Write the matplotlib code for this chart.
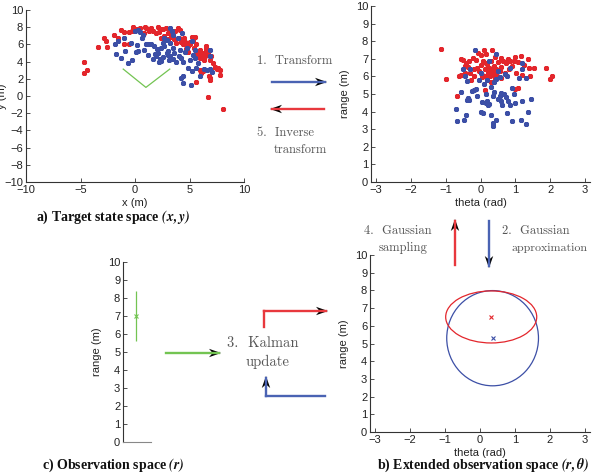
import matplotlib
matplotlib.use("Agg")
import matplotlib.pyplot as plt
import numpy as np
from matplotlib.patches import Ellipse, Polygon
from matplotlib.lines import Line2D

plt.rcParams['font.family'] = ['Liberation Sans', 'DejaVu Sans']
plt.rcParams['mathtext.fontset'] = 'stix'

# ---------------- data ----------------
# a) target state space (x, y)
tgt_red_x = [-4.69, -4.72, -4.44, -3.37, -2.8, -2.67, -2.55, -1.9, -1.6, -1.27, -1.05, -1.0, -0.56, -0.56, -0.14,
             0.17, 0.44, 0.78, 1.05, 1.3, 1.66, 1.9, 2.1, 2.3, 2.6, 2.8, 2.4, 2.7, 3.0, 3.25, 3.4, 3.56, 3.7, 3.9,
             4.1, 4.0, 4.2, 4.35, 4.5, 4.6, 4.7, 4.9, 5.05, 5.2, 5.3, 5.5, 5.6, 5.6, 5.9, 6.0, 6.2, 6.4, 6.55, 6.7,
             6.85, 7.0, 7.15, 7.3, 7.5, 7.6, 7.8, 7.8, 6.8, 6.85, 6.9, 6.2, 6.1, 5.6, 6.7, 8.1, 4.7, 4.9, 5.95,
             6.3, 3.0, 3.3, 3.8, 4.4, 5.0, 5.4, 5.8, 6.1, 6.5, 3.5, 2.2, 1.5, 0.9, -0.3, 6.0, 7.0, 6.5, 5.7]
tgt_red_y = [4.0, 2.7, 3.0, 5.7, 6.8, 6.4, 5.7, 7.1, 6.7, 7.7, 7.4, 6.0, 7.4, 6.0, 8.0,
             7.8, 7.9, 7.3, 7.9, 7.6, 7.6, 7.3, 8.0, 7.8, 7.8, 7.9, 6.8, 7.0, 7.3, 7.6, 7.0, 6.6, 7.6, 7.9,
             7.7, 6.7, 6.3, 6.5, 6.8, 6.3, 5.9, 5.8, 6.3, 6.9, 6.5, 6.9, 6.1, 5.2, 4.8, 5.4, 5.0, 4.6, 5.5, 5.0,
             4.2, 4.6, 3.8, 3.4, 3.1, 3.3, 3.0, 2.5, 2.3, 1.9, 2.1, 2.9, 2.7, 1.6, -0.1, -1.5, 5.5, 5.1, 4.4,
             4.2, 6.6, 6.9, 6.2, 6.1, 6.0, 5.6, 5.0, 4.9, 4.8, 7.3, 7.4, 7.9, 8.0, 7.6, 3.0, 3.0, 5.8, 4.6]
tgt_blue_x = [-1.75, -1.85, -1.6, -1.25, -0.9, -0.63, -0.3, 0.14, 0.3, 0.44, 0.7, 0.8, 1.3, 1.5, 1.7, 2.0, 2.1,
              2.3, 2.4, 2.6, 2.7, 2.9, 3.0, 3.2, 3.35, 3.5, 3.25, 3.45, 3.5, 3.8, 4.1, 4.25, 4.4, 4.25, 4.4, 4.4,
              5.1, 4.9, 5.2, 5.5, 5.8, 5.95, 6.3, 6.85, 6.9, 6.9, 7.1, 5.3, 5.5, 1.65, 1.8, 1.05, 2.7, 2.9, 2.6,
              0.08, -1.0, 0.0, 0.3, 3.0, 3.2, 2.2, 1.9, 4.6, 4.0, 3.6, 5.0, 5.6, 6.6, 4.8, 5.2, 2.4, 0.6, -0.4,
              1.2, 3.9, 4.3, 3.1]
tgt_blue_y = [4.85, 6.0, 6.4, 4.4, 5.2, 3.8, 4.2, 5.95, 5.2, 7.4, 7.1, 5.4, 6.0, 6.1, 5.8, 5.5, 5.0,
              4.3, 4.1, 4.5, 5.8, 5.0, 4.8, 7.9, 7.5, 7.1, 6.2, 5.6, 4.3, 3.9, 5.4, 4.4, 4.0, 2.1, 2.3, 1.5,
              1.3, 3.2, 2.9, 4.4, 3.8, 2.3, 3.1, 5.4, 4.7, 3.1, 2.8, 4.8, 5.4, 4.3, 4.9, 6.1, 6.7, 6.5, 6.2,
              5.1, 6.8, 7.6, 7.7, 5.2, 4.6, 4.0, 4.6, 5.1, 4.7, 5.0, 4.2, 3.2, 3.0, 5.6, 6.4, 5.6, 6.8, 6.2,
              4.8, 6.8, 7.3, 4.2]
fov_x = [-1.08, 1.0, 3.19]
fov_y = [3.13, 1.0, 3.13]

# extended observation space (theta, range) samples
ext_red_t = [-1.13, -0.99, -0.67, -0.62, -0.57, -0.55, -0.5, -0.45, -0.41, -0.37, -0.33, -0.3, -0.27, -0.22,
             -0.18, -0.13, -0.11, -0.08, -0.04, 0.0, 0.01, 0.05, 0.08, 0.1, 0.12, 0.12, 0.15, 0.17, 0.2, 0.22,
             0.25, 0.27, 0.3, 0.32, 0.34, 0.35, 0.38, 0.4, 0.42, 0.45, 0.48, 0.5, 0.55, 0.58, 0.6, 0.65, 0.7,
             0.72, 0.78, 0.82, 0.85, 0.9, 0.95, 1.0, 1.02, 1.08, 1.15, 1.2, 1.25, 1.35, 1.38, 1.42, 1.53, 0.99,
             1.08, 1.88, 1.98, 2.04, -0.2, 0.05, 0.3, 0.6, -0.45, 0.15, 0.36, 0.28, 0.43]
ext_red_r = [7.54, 5.84, 4.86, 6.03, 6.08, 7.0, 6.94, 6.6, 6.75, 6.56, 6.9, 6.18, 5.8, 7.03,
             6.4, 6.94, 6.46, 7.35, 6.28, 6.65, 7.22, 6.1, 6.85, 7.5, 6.4, 5.24, 6.0, 7.3, 6.7, 6.25,
             6.5, 6.05, 6.9, 6.3, 7.5, 6.1, 6.6, 6.2, 7.1, 6.4, 6.0, 6.8, 6.3, 7.05, 6.55, 6.9, 6.2,
             6.75, 7.0, 6.4, 6.85, 6.6, 6.9, 7.1, 6.2, 6.8, 7.15, 6.1, 6.65, 7.0, 6.5, 6.0, 6.45, 5.3,
             5.36, 6.46, 5.84, 6.0, 6.0, 5.95, 5.7, 5.9, 6.2, 6.75, 6.45, 6.2, 5.85]
ext_blue_t = [-0.16, -0.5, -0.45, -0.4, -0.55, -0.69, -0.67, -0.46, -0.43, -0.37, -0.32, -0.25, -0.2, -0.12,
              -0.1, 0.01, 0.08, 0.05, 0.15, 0.2, 0.22, 0.25, 0.3, 0.35, 0.36, 0.45, 0.5, 0.55, 0.6, 0.62, 0.68,
              0.72, 0.75, 0.8, 0.85, 0.9, 0.95, 0.9, 1.0, 1.1, 1.15, 1.2, 1.3, 1.35, 1.44, 1.3, 1.2, 1.18, 0.4,
              0.45, 0.5, 0.55, 0.2, 0.1, 0.0, -0.05, 0.3, 0.4, -0.3, 0.75, 0.85, 0.7, 0.35, 0.15, 0.6, -0.4,
              0.25, 0.45]
ext_blue_r = [7.5, 6.4, 6.0, 5.75, 5.1, 4.14, 3.44, 3.5, 3.78, 4.76, 4.67, 5.15, 5.2, 5.3,
              4.9, 4.0, 3.9, 4.55, 4.5, 4.6, 4.4, 4.45, 3.8, 3.2, 3.35, 3.55, 4.7, 4.9, 5.05, 4.4, 5.0,
              4.85, 3.9, 4.6, 4.35, 5.35, 5.0, 3.45, 4.5, 5.9, 3.5, 4.6, 3.3, 4.0, 4.7, 5.9, 6.4, 6.75, 5.7,
              5.85, 6.3, 5.95, 5.8, 5.55, 6.2, 5.8, 5.4, 5.1, 6.4, 6.0, 6.5, 6.15, 4.9, 5.0, 4.6, 4.65,
              6.85, 7.3]

# b) Gaussian approximations: [theta, range] means and semi-axes
gauss_red_mean = [0.32, 6.5]
gauss_red_semi = [1.30, 1.47]
gauss_blue_mean = [0.36, 5.3]
gauss_blue_semi = [1.31, 2.69]

# c) observation
obs_x = [0.47]
obs_r = [7.0]
obs_err = [1.4]

# ---------------- styles ----------------
RED = '#e3262c'
BLUE = '#3c4fa6'
ARED = '#e8383d'
ABLUE = '#4a63b3'
GREEN = '#73c452'
AX = '#333333'
GREY_TXT = '#555555'
W, H = 593, 473
FS = 8

fig = plt.figure(figsize=(W / 100, H / 100), dpi=100)


def fr(l, t, r, b):
    return [l / W, 1 - b / H, (r - l) / W, (b - t) / H]


def style(ax):
    for s in ['top', 'right']:
        ax.spines[s].set_visible(False)
    for s in ['left', 'bottom']:
        ax.spines[s].set_color(AX)
        ax.spines[s].set_linewidth(0.8)
    ax.tick_params(direction='in', length=3, width=0.6, color=AX, labelsize=FS,
                   labelcolor='#222222', pad=2)


def arrow(x0, y0, x1, y1, color):
    fig.add_artist(Line2D([x0 / W, x1 / W], [1 - y0 / H, 1 - y1 / H], color=color, lw=1.7,
                          transform=fig.transFigure))
    d = np.array([x1 - x0, y1 - y0], float)
    d /= np.hypot(*d)
    n = np.array([-d[1], d[0]])
    tip = np.array([x1, y1], float) + d * 2
    L, Wd = 12, 4.2
    back = tip - d * L
    pts = [tip, back + n * Wd, tip - d * L * 0.7, back - n * Wd]
    pts = [(p[0] / W, 1 - p[1] / H) for p in pts]
    fig.add_artist(Polygon(pts, closed=True, color='black', transform=fig.transFigure, lw=0))


def serif_text(x, y, s, size=9, ha='left'):
    fig.text(x / W, 1 - y / H, s, fontfamily='cmr10', fontsize=size, color=GREY_TXT,
             ha=ha, va='center')


mk = dict(marker=(6, 2, 0), linestyle='none', markersize=3.6, markeredgewidth=1.3)

# ---- a) target state space ----
ax1 = fig.add_axes(fr(26, 10, 244, 182))
style(ax1)
ax1.plot(tgt_red_x, tgt_red_y, color=RED, **mk)
ax1.plot(tgt_blue_x, tgt_blue_y, color=BLUE, **mk)
ax1.plot(fov_x, fov_y, color=GREEN, lw=0.9)
ax1.set_xlim(-10, 10)
ax1.set_ylim(-10, 10)
ax1.set_xticks([-10, -5, 0, 5, 10])
ax1.set_yticks(range(-10, 11, 2))
ax1.set_xlabel('x (m)', fontsize=FS, labelpad=2, color='#222222')
fig.text(0.003, 1 - 96 / H, 'y (m)', rotation=90, fontsize=FS, va='center', ha='center', color='#222222')

# ---- extended space samples ----
ax2 = fig.add_axes(fr(371, 6, 590, 182))
style(ax2)
ax2.plot(ext_red_t, ext_red_r, color=RED, **mk)
ax2.plot(ext_blue_t, ext_blue_r, color=BLUE, **mk)
ax2.set_xlim(-np.pi, np.pi)
ax2.set_ylim(0, 10)
ax2.set_xticks(range(-3, 4))
ax2.set_yticks(range(0, 11))
ax2.set_xlabel('theta (rad)', fontsize=FS, labelpad=2, color='#222222')
ax2.set_ylabel('range (m)', fontsize=FS, labelpad=4, color='#222222')

# ---- b) Gaussian approximation ----
ax3 = fig.add_axes(fr(370, 255, 590, 432))
style(ax3)
ax3.add_patch(Ellipse(gauss_blue_mean, 2 * gauss_blue_semi[0], 2 * gauss_blue_semi[1],
                      fill=False, ec=BLUE, lw=0.9))
ax3.add_patch(Ellipse(gauss_red_mean, 2 * gauss_red_semi[0], 2 * gauss_red_semi[1],
                      fill=False, ec=RED, lw=0.9))
ax3.plot([gauss_red_mean[0]], [gauss_red_mean[1]], marker='x', color=RED, markersize=2.5, mew=0.8)
ax3.plot([gauss_blue_mean[0]], [gauss_blue_mean[1]], marker='x', color=BLUE, markersize=2.5, mew=0.8)
ax3.set_xlim(-np.pi, np.pi)
ax3.set_ylim(0, 10)
ax3.set_xticks(range(-3, 4))
ax3.set_yticks(range(0, 11))
ax3.set_xlabel('theta (rad)', fontsize=FS, labelpad=2, color='#222222')
ax3.set_ylabel('range (m)', fontsize=FS, labelpad=4, color='#222222')

# ---- c) observation space ----
ax4 = fig.add_axes(fr(123, 262, 151, 442))
style(ax4)
ax4.spines['bottom'].set_color('#888888')
ax4.errorbar(obs_x, obs_r, yerr=obs_err, color=GREEN, lw=0.9, capsize=0,
             marker='x', markersize=2.5, mew=0.8)
ax4.set_xlim(0, 1)
ax4.set_ylim(0, 10)
ax4.set_xticks([])
ax4.set_yticks(range(0, 11))
ax4.set_ylabel('range (m)', fontsize=FS, labelpad=4, color='#222222')

# ---- arrows ----
arrow(272, 82, 325, 82, ABLUE)
arrow(324, 109, 272, 109, ARED)
arrow(455, 265, 455, 221, ARED)
arrow(489, 221, 489, 266, ABLUE)
arrow(166, 353, 219, 353, GREEN)
# Kalman update L-shaped arrows
fig.add_artist(Line2D([264 / W, 264 / W], [1 - 327 / H, 1 - 311 / H], color=ARED, lw=1.7,
                      transform=fig.transFigure))
arrow(264, 311, 326, 311, ARED)
fig.add_artist(Line2D([325 / W, 266 / W], [1 - 396 / H, 1 - 396 / H], color=ABLUE, lw=1.7,
                      transform=fig.transFigure))
arrow(266, 396, 266, 378, ABLUE)

# ---- annotations ----
serif_text(257, 61, '1.  Transform')
serif_text(257, 133, '5.  Inverse')
serif_text(274, 150, 'transform')
serif_text(364, 231, '4.  Gaussian')
serif_text(379, 248, 'sampling')
serif_text(502, 231, '2.  Gaussian')
serif_text(512, 248, 'approximation', size=8.6)
serif_text(227, 343, '3.  Kalman', size=10.5)
serif_text(246, 362, 'update', size=10.5)

cap = dict(fontfamily='Liberation Serif', fontweight='bold', fontsize=10, color='#111111',
           ha='center', va='center')
fig.text(113 / W, 1 - 217 / H, r'a) Target state space $\mathbfit{(x, y)}$', **cap)
fig.text(113 / W, 1 - 465 / H, r'c) Observation space $\mathbfit{(r)}$', **cap)
fig.text(483 / W, 1 - 465 / H, r'b) Extended observation space $\mathbfit{(r, \theta)}$', **cap)

fig.savefig('out.png', dpi=100)
